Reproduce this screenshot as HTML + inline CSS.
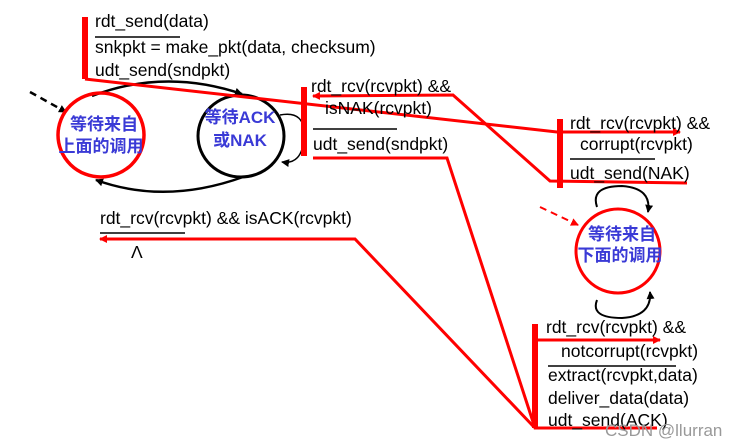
<!DOCTYPE html>
<html><head><meta charset="utf-8"><style>body{margin:0;background:#fff}svg{display:block}
text{font-family:"Liberation Sans",sans-serif;font-size:17.5px;fill:#000}
.c{font-family:"Liberation Sans","Noto Sans CJK SC",sans-serif;font-size:17px;font-weight:bold;fill:#3a3ad6;text-anchor:middle}</style></head><body>
<svg width="746" height="446" viewBox="0 0 746 446">
<defs>
<marker id="ar" markerWidth="8" markerHeight="8" refX="7" refY="4" orient="auto" markerUnits="userSpaceOnUse"><path d="M0,0L8,4L0,8z" fill="#f00"/></marker>
<marker id="ab" markerWidth="8" markerHeight="8" refX="7" refY="4" orient="auto" markerUnits="userSpaceOnUse"><path d="M0,0L8,4L0,8z" fill="#000"/></marker>
</defs>
<g fill="none" stroke="#000" stroke-width="2.5">
<path d="M92,96 Q165,68 242,94" marker-end="url(#ab)"/>
<path d="M243,177 Q165,205 96,180" marker-end="url(#ab)"/>
<path d="M280,115 Q306,110 304,138 Q302,165 282,162" stroke-width="1.5" marker-end="url(#ab)"/>
<path d="M597,207 Q590,186 622,186 Q652,188 648,212" stroke-width="2" marker-end="url(#ab)"/>
<path d="M597,300 Q590,318 622,318 Q652,316 650,292" stroke-width="2" marker-end="url(#ab)"/>
<path d="M30,92 L66,112" stroke-dasharray="7,5" marker-end="url(#ab)"/>
<ellipse cx="241" cy="136" rx="43" ry="41" stroke-width="3"/>
</g>
<g fill="none" stroke="#f00" stroke-width="3">
<ellipse cx="101" cy="135" rx="43" ry="42" stroke-width="3.5"/>
<circle cx="618" cy="251" r="42"/>
<path d="M540,207 L578,225" stroke-width="2" stroke-dasharray="7,5" marker-end="url(#ar)"/>
<path d="M85,79 L557,132 L680,132" marker-end="url(#ar)"/>
<path d="M687,183 L550,181 L453,95 L313,96" marker-end="url(#ar)"/>
<path d="M313,158 L447,158 L535,428 L657,428"/>
<path d="M533,426 L355,239 L100,239" marker-end="url(#ar)"/>
<path d="M535,340 L660,340" marker-end="url(#ar)"/>
<path d="M85,17 V79 M304,87 V156 M560,119 V188 M535,324 V428" stroke-width="6"/>
</g>
<g stroke="#000" stroke-width="1.5">
<path d="M95,37H180 M313,129H397 M570,159H655 M100,233H185 M548,366H676"/>
</g>
<text x="95" y="27">rdt_send(data)</text>
<text x="95" y="53">snkpkt = make_pkt(data, checksum)</text>
<text x="95" y="76">udt_send(sndpkt)</text>
<text x="311" y="92">rdt_rcv(rcvpkt) &amp;&amp;</text>
<text x="325" y="114">isNAK(rcvpkt)</text>
<text x="313" y="150">udt_send(sndpkt)</text>
<text x="570" y="129">rdt_rcv(rcvpkt) &amp;&amp;</text>
<text x="580" y="150">corrupt(rcvpkt)</text>
<text x="570" y="179">udt_send(NAK)</text>
<text x="100" y="224">rdt_rcv(rcvpkt) &amp;&amp; isACK(rcvpkt)</text>
<text x="131" y="258">Λ</text>
<text x="546" y="333">rdt_rcv(rcvpkt) &amp;&amp;</text>
<text x="561" y="357">notcorrupt(rcvpkt)</text>
<text x="548" y="381">extract(rcvpkt,data)</text>
<text x="548" y="404">deliver_data(data)</text>
<text x="548" y="426">udt_send(ACK)</text>
<text x="605" y="436" style="fill:#999;font-size:17px">CSDN @llurran</text>
<text class="c" x="104" y="130">等待来自</text>
<text class="c" x="101" y="152">上面的调用</text>
<text class="c" x="240" y="123">等待ACK</text>
<text class="c" x="240" y="146">或NAK</text>
<text class="c" x="622" y="240">等待来自</text>
<text class="c" x="620" y="261">下面的调用</text>
</svg></body></html>
